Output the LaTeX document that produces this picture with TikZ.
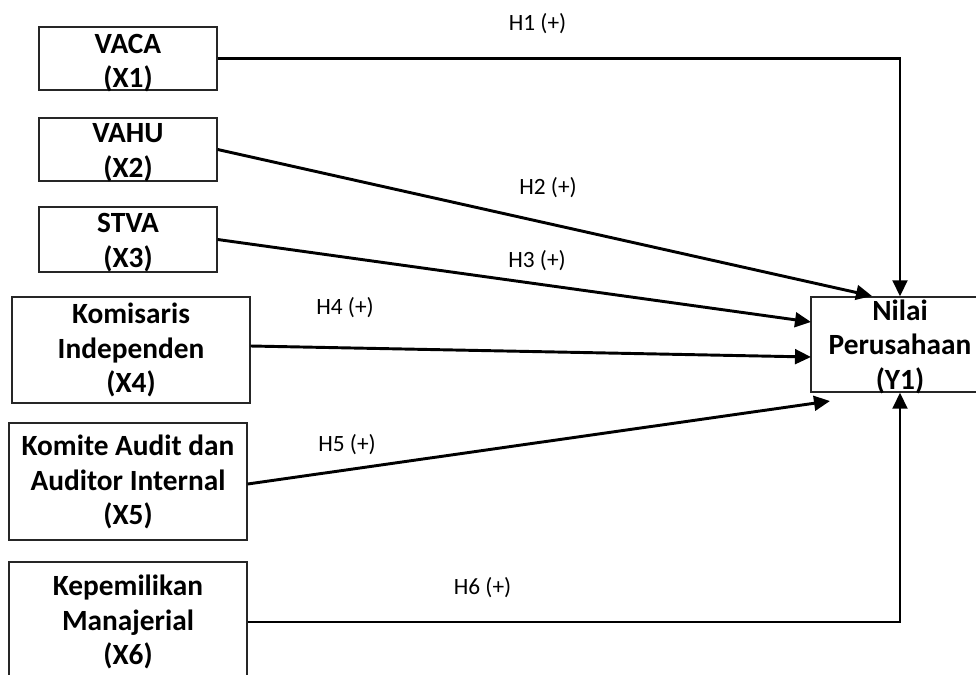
\documentclass[tikz,border=0pt]{standalone}
\usepackage{fontspec}
\setmainfont{Carlito}
\usetikzlibrary{arrows.meta,calc}
\begin{document}
\begin{tikzpicture}[x=0.75pt,y=-0.75pt,
  box/.style={draw=black!85, line width=1pt, inner sep=0, rectangle},
  boxtext/.style={anchor=north, inner sep=0, align=center, font=\fontsize{22}{26}\selectfont\bfseries},
  lab/.style={font=\fontsize{17.5}{21}\selectfont, inner sep=0},
  conn/.style={line width=2.2pt, -{Triangle[length=12pt,width=11pt]}}]
\useasboundingbox (0,0) rectangle (976,675);
% boxes
\node[box, minimum width=133.5pt, minimum height=47.25pt] (x1) at (128,58.5) {};
\node[box, minimum width=133.5pt, minimum height=47.25pt] (x2) at (128,149.5) {};
\node[box, minimum width=133.5pt, minimum height=48.75pt] (x3) at (128,239.5) {};
\node[box, minimum width=178.5pt, minimum height=79.5pt] (x4) at (131,350) {};
\node[box, minimum width=178.5pt, minimum height=87.75pt] (x5) at (128,481.5) {};
\node[box, minimum width=178.5pt, minimum height=90pt] (x6) at (128,622) {};
\node[box, minimum width=133.5pt, minimum height=71.25pt] (y1) at (900,344.5) {};
% box texts
\node[boxtext] (t1) at (128,28.5) {\strut VACA\\(X1)};
\node[boxtext] (t2) at (128,118) {\strut VAHU\\(X2)};
\node[boxtext] (t3) at (128,208) {\strut STVA\\(X3)};
\node[boxtext] (t4) at (131,299) {\strut Komisaris\\Independen\\(X4)};
\node[boxtext] (t5) at (128,431) {\strut Komite Audit dan\\Auditor Internal\\(X5)};
\node[boxtext] (t6) at (128,571) {\strut Kepemilikan\\Manajerial\\(X6)};
\node[boxtext] (ty) at (900,295.5) {\strut Nilai\\Perusahaan\\(Y1)};
% arrow end points
\coordinate (e2) at (872,296);
\coordinate (e3) at (811,322);
\coordinate (e4) at (811,357);
\coordinate (e5) at (830,401);
% connectors
\draw[conn] (x1.east) -| (y1.north);
\draw[conn] (x2.east) -- (e2);
\draw[conn] (x3.east) -- (e3);
\draw[conn] ($(x4.east)+(0,-4)$) -- (e4);
\draw[conn] ($(x5.east)+(0,2.5)$) -- (e5);
\draw[conn] (x6.east) -| (y1.south);
% labels
\node[lab] (h1) at (537.5,23.5) {H1 (+)};
\node[lab] (h2) at (548,187.5) {H2 (+)};
\node[lab] (h3) at (537,261) {H3 (+)};
\node[lab] (h4) at (345,308) {H4 (+)};
\node[lab] (h5) at (347,445) {H5 (+)};
\node[lab] (h6) at (482.5,587.5) {H6 (+)};
\end{tikzpicture}
\end{document}
